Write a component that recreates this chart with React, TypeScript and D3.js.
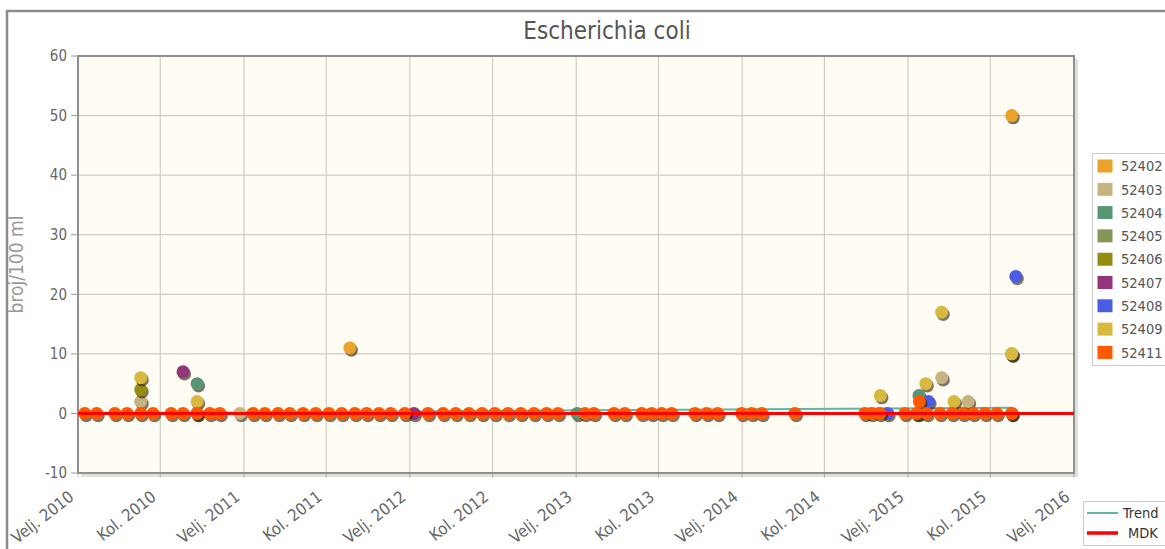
import React, { Component } from 'react';
import * as d3 from 'd3';

type Obs = [string, number];

// stations (legend order) and their colours
const stationNames = ['52402', '52403', '52404', '52405', '52406', '52407', '52408', '52409', '52411'];
const stationColours = ['#eaa228', '#c5b47f', '#579575', '#839557', '#958c12', '#953579', '#4b5de4', '#d8b83f', '#ff5800'];

// measurements per station: [sampling date, broj/100 ml]
const s52402: Obs[] = [['2011-09-22', 11], ['2015-09-17', 50]];
const s52403: Obs[] = [['2010-06-19', 2], ['2011-01-23', 0], ['2015-04-16', 6], ['2015-06-13', 2]];
const s52404: Obs[] = [['2010-10-21', 5], ['2013-02-03', 0], ['2015-02-25', 3]];
const s52405: Obs[] = [['2015-02-23', 0], ['2015-09-17', 0]];
const s52406: Obs[] = [['2010-06-19', 4], ['2015-09-17', 10]];
const s52407: Obs[] = [['2010-09-20', 7], ['2012-02-10', 0]];
const s52408: Obs[] = [['2010-10-21', 0], ['2014-12-18', 0], ['2015-03-18', 2], ['2015-09-26', 23]];
const s52409: Obs[] = [
    ['2010-06-19', 6], ['2010-10-21', 2], ['2014-12-02', 3], ['2015-03-12', 5],
    ['2015-04-16', 17], ['2015-05-13', 2], ['2015-09-17', 10]
];
const s52411: Obs[] = [
    ['2010-02-16', 0], ['2010-03-14', 0], ['2010-04-23', 0], ['2010-05-20', 0], ['2010-06-19', 0],
    ['2010-07-16', 0], ['2010-08-25', 0], ['2010-09-20', 0], ['2010-10-21', 0], ['2010-11-18', 0],
    ['2010-12-10', 0], ['2011-02-21', 0], ['2011-03-19', 0], ['2011-04-17', 0], ['2011-05-13', 0],
    ['2011-06-11', 0], ['2011-07-09', 0], ['2011-08-07', 0], ['2011-09-04', 0], ['2011-10-03', 0],
    ['2011-10-29', 0], ['2011-11-25', 0], ['2011-12-21', 0], ['2012-01-21', 0], ['2012-03-12', 0],
    ['2012-04-14', 0], ['2012-05-12', 0], ['2012-06-10', 0], ['2012-07-09', 0], ['2012-08-06', 0],
    ['2012-09-04', 0], ['2012-10-02', 0], ['2012-10-31', 0], ['2012-11-28', 0], ['2012-12-23', 0],
    ['2013-02-20', 0], ['2013-03-12', 0], ['2013-04-25', 0], ['2013-05-19', 0], ['2013-06-25', 0],
    ['2013-07-17', 0], ['2013-08-08', 0], ['2013-08-30', 0], ['2013-10-20', 0], ['2013-11-15', 0],
    ['2013-12-09', 0], ['2014-01-31', 0], ['2014-02-22', 0], ['2014-03-16', 0], ['2014-05-28', 0],
    ['2014-10-29', 0], ['2014-11-13', 0], ['2014-12-01', 0], ['2015-01-25', 0], ['2015-02-20', 0],
    ['2015-02-26', 2], ['2015-03-14', 0], ['2015-04-12', 0], ['2015-05-09', 0], ['2015-06-02', 0],
    ['2015-06-24', 0], ['2015-07-20', 0], ['2015-08-15', 0], ['2015-09-17', 0]
];
const stationSeries = [s52402, s52403, s52404, s52405, s52406, s52407, s52408, s52409, s52411];

// trend and the maximum allowed concentration (MDK)
const trendDates = ['2010-02-16', '2015-09-17'];
const trendValues = [0, 0.95];
const mdkDates = ['2010-02-01', '2016-02-01'];
const mdkValues = [0, 0];

const yTicks = [-10, 0, 10, 20, 30, 40, 50, 60];
const xTickDates = [
    '2010-02-01', '2010-08-01', '2011-02-01', '2011-08-01', '2012-02-01', '2012-08-01', '2013-02-01',
    '2013-08-01', '2014-02-01', '2014-08-01', '2015-02-01', '2015-08-01', '2016-02-01'
];
const monthLabels: { [m: number]: string } = { 1: 'Velj.', 7: 'Kol.' };

const FONT = "'DejaVu Sans Condensed', 'DejaVu Sans', sans-serif";

export default class App extends Component {
    private canvas = React.createRef<HTMLDivElement>();
    private width = 1165;
    private height = 549;
    private plot = { left: 78, right: 1074, top: 56, bottom: 473 };

    componentDidMount() {
        this.buildChart();
    }

    buildChart = () => {
        const parse = d3.timeParse('%Y-%m-%d');
        const p = this.plot;
        const root = d3.select(this.canvas.current);
        root.selectAll('*').remove();

        const svg = root.append('svg')
            .attr('width', this.width)
            .attr('height', this.height)
            .style('display', 'block')
            .style('font-family', FONT);

        const x = d3.scaleTime()
            .domain([parse(xTickDates[0]) as Date, parse(xTickDates[xTickDates.length - 1]) as Date])
            .range([p.left, p.right]);
        const y = d3.scaleLinear().domain([-10, 60]).range([p.bottom, p.top]);

        svg.append('rect').attr('width', this.width).attr('height', this.height).attr('fill', '#fff');

        // outer frame
        svg.append('rect')
            .attr('x', 7).attr('y', 11)
            .attr('width', 1220).attr('height', 600)
            .attr('fill', 'none')
            .attr('stroke', '#8c8c8c')
            .attr('stroke-width', 2.5);

        // title
        svg.append('text')
            .attr('x', 607).attr('y', 39)
            .attr('text-anchor', 'middle')
            .attr('font-size', 24)
            .attr('fill', '#555')
            .text('Escherichia coli');

        // plot background + grid
        svg.append('rect')
            .attr('x', p.left).attr('y', p.top)
            .attr('width', p.right - p.left).attr('height', p.bottom - p.top)
            .attr('fill', '#fffcf4');

        const grid = svg.append('g').attr('stroke', '#d0ccc3').attr('stroke-width', 1.2);
        grid.selectAll('.hg')
            .data(yTicks)
            .enter().append('line')
            .attr('x1', p.left).attr('x2', p.right)
            .attr('y1', (d: number) => y(d)).attr('y2', (d: number) => y(d));
        grid.selectAll('.vg')
            .data(xTickDates)
            .enter().append('line')
            .attr('x1', (d: string) => x(parse(d) as Date)).attr('x2', (d: string) => x(parse(d) as Date))
            .attr('y1', p.top).attr('y2', p.bottom + 5);

        // frame shadow + border
        svg.append('path')
            .attr('d', `M${p.left + 3},${p.bottom + 2.5}H${p.right + 2.5}V${p.top + 3}`)
            .attr('fill', 'none')
            .attr('stroke', '#000')
            .attr('stroke-opacity', 0.12)
            .attr('stroke-width', 3);
        svg.append('rect')
            .attr('x', p.left).attr('y', p.top)
            .attr('width', p.right - p.left).attr('height', p.bottom - p.top)
            .attr('fill', 'none')
            .attr('stroke', '#8f8f8f')
            .attr('stroke-width', 2);

        // y axis
        const yAxis = svg.append('g');
        yAxis.selectAll('line')
            .data(yTicks)
            .enter().append('line')
            .attr('x1', p.left - 7).attr('x2', p.left)
            .attr('y1', (d: number) => y(d)).attr('y2', (d: number) => y(d))
            .attr('stroke', '#999');
        yAxis.selectAll('text')
            .data(yTicks)
            .enter().append('text')
            .attr('x', p.left - 11)
            .attr('y', (d: number) => y(d))
            .attr('dy', '0.35em')
            .attr('text-anchor', 'end')
            .attr('font-size', 15)
            .attr('fill', '#666')
            .text((d: number) => d);

        svg.append('text')
            .attr('transform', `translate(23,${(p.top + p.bottom) / 2}) rotate(-90)`)
            .attr('text-anchor', 'middle')
            .attr('font-size', 19)
            .attr('fill', '#999')
            .text('broj/100 ml');

        // x axis labels
        svg.selectAll('.xLabel')
            .data(xTickDates)
            .enter().append('text')
            .attr('class', 'xLabel')
            .attr('transform', (d: string) => `translate(${x(parse(d) as Date) - 3},${p.bottom + 26}) rotate(-38)`)
            .attr('text-anchor', 'end')
            .attr('font-size', 16.5)
            .attr('fill', '#666')
            .text((d: string) => {
                const dt = parse(d) as Date;
                return `${monthLabels[dt.getMonth()]} ${dt.getFullYear()}`;
            });

        const line = d3.line<[Date, number]>()
            .x((d) => x(d[0]))
            .y((d) => y(d[1]));

        // trend
        svg.append('path')
            .datum(trendDates.map((d, i) => [parse(d) as Date, trendValues[i]] as [Date, number]))
            .attr('d', line)
            .attr('fill', 'none')
            .attr('stroke', '#5eb5a8')
            .attr('stroke-width', 2);

        // station points
        stationSeries.forEach((series, i) => {
            const g = svg.append('g');
            g.selectAll('.shadow')
                .data(series)
                .enter().append('circle')
                .attr('cx', (d: Obs) => x(parse(d[0]) as Date) + 1.5)
                .attr('cy', (d: Obs) => y(d[1]) + 2.2)
                .attr('r', 6.6)
                .attr('fill', '#2a1a00')
                .attr('fill-opacity', 0.6);
            g.selectAll('.dot')
                .data(series)
                .enter().append('circle')
                .attr('cx', (d: Obs) => x(parse(d[0]) as Date))
                .attr('cy', (d: Obs) => y(d[1]))
                .attr('r', 6.5)
                .attr('fill', stationColours[i]);
        });

        // MDK
        svg.append('path')
            .datum(mdkDates.map((d, i) => [parse(d) as Date, mdkValues[i]] as [Date, number]))
            .attr('d', line)
            .attr('fill', 'none')
            .attr('stroke', '#ff0000')
            .attr('stroke-width', 3);

        // station legend
        const legend = svg.append('g');
        legend.append('rect')
            .attr('x', 1092.5).attr('y', 153.5)
            .attr('width', 100).attr('height', 212)
            .attr('fill', '#fff')
            .attr('stroke', '#ccc');
        stationNames.forEach((name, i) => {
            const cy = 166 + i * 23.3;
            legend.append('rect')
                .attr('x', 1097).attr('y', cy - 7)
                .attr('width', 16).attr('height', 14)
                .attr('fill', stationColours[i])
                .attr('stroke', '#fff')
                .attr('stroke-width', 1);
            legend.append('text')
                .attr('x', 1121).attr('y', cy)
                .attr('dy', '0.36em')
                .attr('font-size', 14.5)
                .attr('fill', '#555')
                .text(name);
        });

        // trend / MDK legend
        const legend2 = svg.append('g');
        legend2.append('rect')
            .attr('x', 1083.5).attr('y', 501.5)
            .attr('width', 100).attr('height', 44)
            .attr('fill', '#fff')
            .attr('stroke', '#ccc');
        [['Trend', '#5eb5a8', 2, 1123], ['MDK', '#ff0000', 3.5, 1128]].forEach((e, i) => {
            const cy = 513 + i * 20;
            legend2.append('line')
                .attr('x1', 1087).attr('x2', 1118)
                .attr('y1', cy).attr('y2', cy)
                .attr('stroke', e[1] as string)
                .attr('stroke-width', e[2] as number);
            legend2.append('text')
                .attr('x', e[3] as number).attr('y', cy)
                .attr('dy', '0.36em')
                .attr('font-size', 14.5)
                .attr('fill', '#333')
                .text(e[0] as string);
        });
    }

    render() {
        return (
            <div ref={this.canvas} style={{ position: 'absolute', left: 0, top: 0 }}></div>
        );
    }
}
